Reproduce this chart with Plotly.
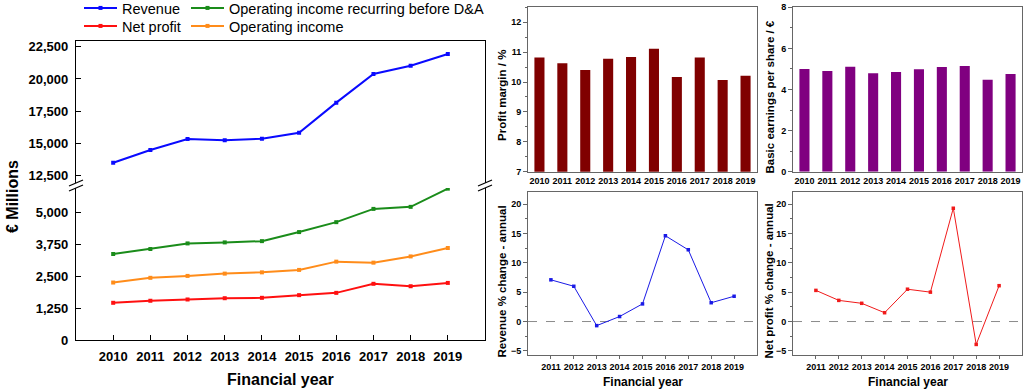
import plotly.graph_objects as go

# ---------------- data ----------------
years = [2010, 2011, 2012, 2013, 2014, 2015, 2016, 2017, 2018, 2019]
revenue = [13490, 14480, 15330, 15230, 15360, 15820, 18160, 20390, 21030, 21940]
oi_recurring_before_da = [3375, 3570, 3790, 3830, 3880, 4235, 4625, 5145, 5225, 5940]
operating_income = [2255, 2440, 2515, 2605, 2655, 2750, 3075, 3035, 3280, 3610]
net_profit = [1460, 1540, 1590, 1640, 1655, 1760, 1850, 2205, 2110, 2240]

profit_margin = [10.82, 10.63, 10.40, 10.78, 10.84, 11.11, 10.17, 10.82, 10.07, 10.21]
basic_eps = [5.00, 4.90, 5.11, 4.79, 4.85, 4.98, 5.09, 5.14, 4.48, 4.75]

change_years = [2011, 2012, 2013, 2014, 2015, 2016, 2017, 2018, 2019]
revenue_change = [7.1, 6.0, -0.7, 0.85, 3.0, 14.6, 12.2, 3.2, 4.3]
net_profit_change = [5.3, 3.6, 3.1, 1.5, 5.5, 5.0, 19.3, -3.9, 6.1]

upper_ticks = [12500, 15000, 17500, 20000, 22500]
lower_ticks = [0, 1250, 2500, 3750, 5000]
change_ticks = [-5, 0, 5, 10, 15, 20]

# ---------------- helpers ----------------
# The figure is drawn SHIFT px taller and scrolled up by SHIFT px, so that
# legends (which plotly keeps inside the figure) can sit as high as in the reference.
SHIFT = 12
W, H = 1024, 390 + SHIFT
def px(x):
    return x / W
def py(y):
    return 1 - (y + SHIFT) / H

FONT = "Liberation Sans, Arial, sans-serif"
BLUE, GREEN, RED, ORANGE = "#0a0aff", "#1a8c1a", "#ff1010", "#ff8c1a"
MAROON, PURPLE = "#800000", "#800080"
GRAY = "#666666"

fig = go.Figure()

def series(x, y, name, color, xa, ya, legend):
    return go.Scatter(x=x, y=y, name=name, xaxis=xa, yaxis=ya, legend=legend,
                      mode="lines+markers", line=dict(color=color, width=2),
                      marker=dict(symbol="square", size=4, color=color))

# ---- left panel ----
fig.add_trace(series(years, revenue, "Revenue", BLUE, "x2", "y2", "legend"))
fig.add_trace(series(years, oi_recurring_before_da, "Operating income recurring before D&A", GREEN, "x", "y", "legend3"))
fig.add_trace(series(years, net_profit, "Net profit", RED, "x", "y", "legend2"))
fig.add_trace(series(years, operating_income, "Operating income", ORANGE, "x", "y", "legend4"))

# ---- bars ----
fig.add_trace(go.Bar(x=years, y=profit_margin, xaxis="x3", yaxis="y3", width=0.44,
                     marker=dict(color=MAROON, line=dict(width=0)), showlegend=False))
fig.add_trace(go.Bar(x=years, y=basic_eps, xaxis="x4", yaxis="y4", width=0.44,
                     marker=dict(color=PURPLE, line=dict(width=0)), showlegend=False))

# ---- % change ----
fig.add_trace(go.Scatter(x=change_years, y=revenue_change, xaxis="x5", yaxis="y5", mode="lines+markers",
                         line=dict(color="#1a1ae6", width=1), marker=dict(symbol="square", size=3.5, color="#1a1ae6"),
                         showlegend=False))
fig.add_trace(go.Scatter(x=change_years, y=net_profit_change, xaxis="x6", yaxis="y6", mode="lines+markers",
                         line=dict(color="#f01a1a", width=1), marker=dict(symbol="square", size=3.5, color="#f01a1a"),
                         showlegend=False))

left_dom = [px(76), px(485)]
lower_dom = [py(340), py(188)]
upper_dom = [py(183.3), py(41)]

tick_font_left = dict(family=FONT, size=13, color="black", weight="bold")
small_font = dict(family=FONT, size=9, color="black", weight="bold")

common_left = dict(showline=True, linecolor="black", linewidth=1.3, showgrid=False, zeroline=False,
                   ticks="inside", ticklen=5, tickcolor="black", tickwidth=1, tickfont=tick_font_left,
                   automargin=False)

fig.update_layout(
    xaxis=dict(domain=left_dom, anchor="y", range=[2009, 2020], tickvals=years, mirror=False,
               ticklabelstandoff=4, **common_left),
    yaxis=dict(domain=lower_dom, anchor="x", range=[0, 5965], tickvals=lower_ticks, tickformat=",",
               mirror=True, ticklabelstandoff=4, **common_left),
    xaxis2=dict(domain=left_dom, anchor="y2", range=[2009, 2020], matches="x", side="top",
                showticklabels=False, showline=True, linecolor="black", linewidth=1.3, ticks="",
                showgrid=False, zeroline=False, automargin=False),
    yaxis2=dict(domain=upper_dom, anchor="x2", range=[11893, 22950], tickvals=upper_ticks, tickformat=",",
                mirror=True, ticklabelstandoff=4, **common_left),
)

box_kw = dict(showline=True, mirror=True, linecolor=GRAY, linewidth=1, showgrid=False, zeroline=False,
              automargin=False)
bar_top = [py(171.7), py(7.3)]
chg_dom = [py(355), py(192.3)]
c1 = [px(528), px(757)]
c2 = [px(793), px(1022)]

def ymin(dt, t0):
    return dict(ticks="outside", ticklen=2, dtick=dt, tick0=t0, tickcolor=GRAY)

fig.update_layout(
    xaxis3=dict(domain=c1, anchor="y3", range=[2009.5, 2019.5], tickvals=years, ticks="",
                tickfont=small_font, **box_kw),
    yaxis3=dict(domain=bar_top, anchor="x3", range=[7, 12.5], dtick=1, tick0=7, ticks="outside", ticklen=4,
                tickcolor=GRAY, tickfont=small_font, minor=ymin(0.5, 7), **box_kw),
    xaxis4=dict(domain=c2, anchor="y4", range=[2009.5, 2019.5], tickvals=years, ticks="",
                tickfont=small_font, **box_kw),
    yaxis4=dict(domain=bar_top, anchor="x4", range=[0, 8], dtick=2, tick0=0, ticks="outside", ticklen=4,
                tickcolor=GRAY, tickfont=small_font, minor=ymin(1, 0), **box_kw),
    xaxis5=dict(domain=c1, anchor="y5", range=[2010, 2020], tickvals=change_years, ticks="outside", ticklen=3,
                tickcolor=GRAY, tickfont=small_font, **box_kw),
    yaxis5=dict(domain=chg_dom, anchor="x5", range=[-5.7, 22], tickvals=change_ticks, ticks="outside",
                ticklen=4, tickcolor=GRAY, tickfont=small_font, minor=ymin(2.5, 0), **box_kw),
    xaxis6=dict(domain=c2, anchor="y6", range=[2010, 2020], tickvals=change_years, ticks="outside", ticklen=3,
                tickcolor=GRAY, tickfont=small_font, **box_kw),
    yaxis6=dict(domain=chg_dom, anchor="x6", range=[-5.7, 22], tickvals=change_ticks, ticks="outside",
                ticklen=4, tickcolor=GRAY, tickfont=small_font, minor=ymin(2.5, 0), **box_kw),
)

# zero dashed lines
for xa, ya in (("x5", "y5"), ("x6", "y6")):
    fig.add_shape(type="line", xref=f"{xa} domain", yref=ya, x0=0, x1=1, y0=0, y1=0,
                  line=dict(color="#8c8c8c", width=1, dash="dash"), layer="below")

# axis-break marks
for xc in (76, 485):
    for dy in (0, 5):
        fig.add_shape(type="line", xref="paper", yref="paper",
                      x0=px(xc - 7), y0=py(188.5 + dy - 2.5), x1=px(xc + 7), y1=py(182.5 + dy - 2.5),
                      line=dict(color="black", width=1.2))

# text annotations
ann = []
def add_text(txt, x, y, size, bold=True, angle=0):
    ann.append(dict(text=txt, x=px(x), y=py(y), xref="paper", yref="paper", showarrow=False,
                    xanchor="center", yanchor="middle", textangle=angle,
                    font=dict(family=FONT, size=size, color="black", weight="bold" if bold else "normal")))

add_text("Financial year", 280, 379, 16)
add_text("€ Millions", 12, 197, 16, angle=-90)
add_text("Profit margin / %", 502, 96, 11.5, angle=-90)
add_text("Basic earnings per share / €", 770, 97.5, 11.5, angle=-90)
add_text("Revenue % change - annual", 501.5, 282, 11.5, angle=-90)
add_text("Net profit % change - annual", 768, 281.5, 11.5, angle=-90)
add_text("Financial year", 642.5, 382, 12)
add_text("Financial year", 907.5, 382, 12)

leg_font = dict(family=FONT, size=14.5, color="black")
leg_common = dict(xanchor="left", yanchor="top", font=leg_font, bgcolor="rgba(0,0,0,0)",
                  itemwidth=33, tracegroupgap=0)
fig.update_layout(
    template="none",
    font=dict(family=FONT, color="black"),
    annotations=ann,
    width=W, height=H,
    margin=dict(l=0, r=0, t=0, b=0, autoexpand=False),
    paper_bgcolor="white", plot_bgcolor="rgba(0,0,0,0)",
    legend=dict(x=px(79), y=py(-8), **leg_common),
    legend2=dict(x=px(79), y=py(10), **leg_common),
    legend3=dict(x=px(186), y=py(-8), **leg_common),
    legend4=dict(x=px(186), y=py(10), **leg_common),
    showlegend=True,
)

fig.write_html("out.html", config={"displayModeBar": False},
               post_script=f"document.body.style.margin='0';document.body.style.marginTop='-{SHIFT}px';"
                           "document.body.style.overflow='hidden';")
